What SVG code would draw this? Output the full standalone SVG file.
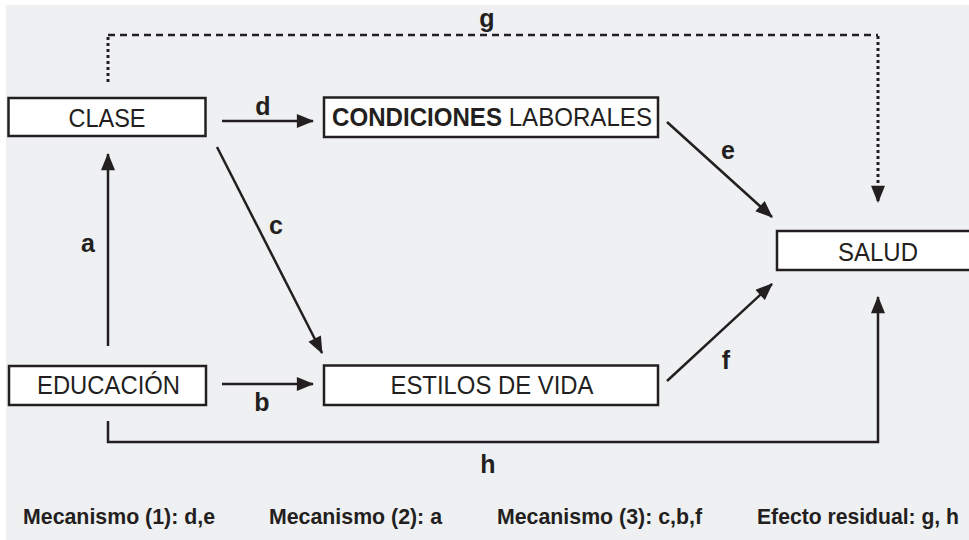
<svg xmlns="http://www.w3.org/2000/svg" width="969" height="540" viewBox="0 0 969 540">
<defs>
<marker id="ah" markerUnits="userSpaceOnUse" markerWidth="18" markerHeight="14" viewBox="0 0 16 13" refX="15" refY="6.5" orient="auto">
<path d="M0,0 L16,6.5 L0,13 z" fill="#231f20"/>
</marker>
<style>
.box{fill:#fff;stroke:#231f20;stroke-width:2.5}
.t{font-family:"Liberation Sans",Arial,sans-serif;font-size:25.5px;fill:#231f20;text-anchor:middle}
.lb{font-family:"Liberation Sans",Arial,sans-serif;font-size:25px;font-weight:bold;fill:#231f20;text-anchor:middle}
.ft{font-family:"Liberation Sans",Arial,sans-serif;font-size:21.5px;font-weight:bold;fill:#231f20}
.ln{stroke:#231f20;stroke-width:2.5;fill:none}
.arr{marker-end:url(#ah)}
.dot{stroke-dasharray:3 3;stroke-width:3}
.dash{stroke-dasharray:7 5}
</style>
</defs>
<rect x="0" y="0" width="969" height="540" fill="#fff"/>
<rect x="6" y="5" width="963" height="535" fill="#eff0f2"/>

<g id="connectors">
<line class="ln arr" x1="108" y1="346" x2="108" y2="154"/>
<line class="ln arr" x1="222" y1="384" x2="313" y2="384"/>
<line class="ln arr" x1="217" y1="147" x2="322" y2="353"/>
<line class="ln arr" x1="222" y1="121" x2="313" y2="121"/>
<line class="ln arr" x1="667" y1="122" x2="772" y2="217"/>
<line class="ln arr" x1="667" y1="381" x2="772" y2="284"/>
<line class="ln dot" x1="108" y1="82" x2="108" y2="36"/>
<line class="ln dash" x1="108" y1="35" x2="878" y2="35"/>
<line class="ln dot arr" x1="878" y1="36" x2="878" y2="202"/>
<path class="ln arr" d="M108,421 V442 H878 V297"/>
<text class="lb" x="487" y="27">g</text>
<text class="lb" x="263" y="115">d</text>
<text class="lb" x="728" y="159">e</text>
<text class="lb" x="276" y="234">c</text>
<text class="lb" x="88" y="252">a</text>
<text class="lb" x="262" y="411">b</text>
<text class="lb" x="726" y="369">f</text>
<text class="lb" x="488" y="473">h</text>
</g>

<g id="clase">
<rect class="box" x="8.5" y="98" width="197" height="38"/>
<text class="t" x="107" y="127" textLength="77" lengthAdjust="spacingAndGlyphs">CLASE</text>
</g>
<g id="condiciones">
<rect class="box" x="324" y="97.5" width="334" height="39.5"/>
<text class="t" x="492" y="126" textLength="320" lengthAdjust="spacingAndGlyphs"><tspan font-weight="bold">CONDICIONES</tspan> LABORALES</text>
</g>
<g id="educacion">
<rect class="box" x="9" y="366" width="197" height="39"/>
<text class="t" x="108.5" y="394" textLength="143" lengthAdjust="spacingAndGlyphs">EDUCACIÓN</text>
</g>
<g id="estilos">
<rect class="box" x="324" y="365.5" width="334" height="39.5"/>
<text class="t" x="492" y="394" textLength="203" lengthAdjust="spacingAndGlyphs">ESTILOS DE VIDA</text>
</g>
<g id="salud">
<rect class="box" x="777" y="231" width="200" height="39"/>
<text class="t" x="878" y="261" textLength="80" lengthAdjust="spacingAndGlyphs">SALUD</text>
</g>

<g id="legend">
<text class="ft" x="23" y="524" textLength="192" lengthAdjust="spacingAndGlyphs">Mecanismo (1): d,e</text>
<text class="ft" x="269" y="524" textLength="173" lengthAdjust="spacingAndGlyphs">Mecanismo (2): a</text>
<text class="ft" x="497" y="524" textLength="205" lengthAdjust="spacingAndGlyphs">Mecanismo (3): c,b,f</text>
<text class="ft" x="757" y="524" textLength="202" lengthAdjust="spacingAndGlyphs">Efecto residual: g, h</text>
</g>
</svg>
